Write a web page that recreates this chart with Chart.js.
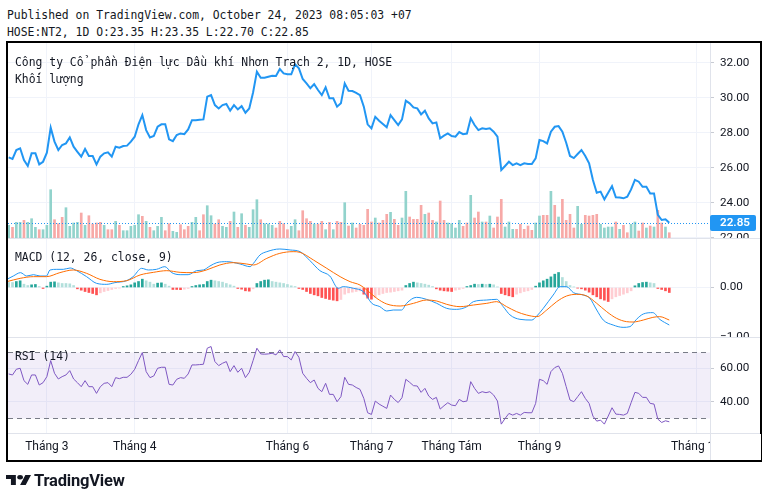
<!DOCTYPE html>
<html lang="vi">
<head>
<meta charset="utf-8">
<title>HOSE:NT2 - TradingView</title>
<script src="https://cdn.jsdelivr.net/npm/chart.js@4.4.0/dist/chart.umd.min.js"></script>
<style>
  body { margin: 0; background: #fff; }
  #page { position: relative; width: 767px; height: 498px; overflow: hidden; color: #131722; font-family: Roboto, sans-serif; }
  .mono { position: absolute; font-family: 'DejaVu Sans Mono', monospace; font-size: 11.4px; line-height: 14px; white-space: nowrap; color: #131722; }
  #frame { position: absolute; left: 6px; top: 41px; width: 752px; height: 417px; border: 2px solid #000; }
  canvas { position: absolute; left: 8px; }
  .sep { position: absolute; left: 8px; width: 752px; height: 1px; background: #e0e3eb; }
  #axisCorner { position: absolute; left: 710px; top: 434px; width: 50px; height: 26px; background: #fff; border-left: 1px solid #e0e3eb; }
  #logo { position: absolute; left: 6px; top: 470px; height: 20px; display: flex; align-items: center; }
  #logo span { font-family: Roboto, sans-serif; font-weight: 700; font-size: 16.5px; margin-left: 3px; letter-spacing: -0.2px; }
</style>
</head>
<body>
<div id="page">
  <div class="mono" style="left:7px; top:8px;">Published on TradingView.com, October 24, 2023 08:05:03 +07</div>
  <div class="mono" style="left:7px; top:25px;">HOSE:NT2, 1D O:23.35 H:23.35 L:22.70 C:22.85</div>

  <div id="frame"></div>
  <canvas id="main" width="752" height="195" style="top:43px;"></canvas>
  <canvas id="macd" width="752" height="99" style="top:238px;"></canvas>
  <canvas id="rsi" width="752" height="123" style="top:337px;"></canvas>
  <div class="sep" style="top:238px;"></div>
  <div class="sep" style="top:337px;"></div>
  <div class="sep" style="top:433px;"></div>
  <div id="axisCorner"></div>

  <div class="mono" style="left:15px; top:55px;">Công ty Cổ phần Điện lực Dầu khí Nhơn Trạch 2, 1D, HOSE</div>
  <div class="mono" style="left:15px; top:72px;">Khối lượng</div>
  <div class="mono" style="left:15px; top:250px;">MACD (12, 26, close, 9)</div>
  <div class="mono" style="left:15px; top:349px;">RSI (14)</div>

  <div id="logo">
    <svg width="25" height="10" viewBox="0 4 35.5 18" preserveAspectRatio="none">
      <path fill="#131722" d="M14 22H7V11H0V4h14v18zM28 22h-8l7.5-18h8L28 22z"/>
      <circle fill="#131722" cx="20" cy="8" r="4"/>
    </svg>
    <span>TradingView</span>
  </div>
</div>

<script>
'use strict';

// one entry per trading day, Feb 15 2023 -> Oct 24 2023 (bar index = position)
let close = [
  26.59, 26.50, 27.01, 27.11, 26.44, 26.10, 26.82, 26.82, 26.19, 26.34,
  26.86, 28.29, 27.49, 27.01, 27.30, 27.39, 27.73, 27.20, 26.91, 26.63,
  27.07, 26.67, 26.67, 26.19, 26.63, 26.82, 26.88, 26.63, 27.20, 27.14,
  27.24, 27.26, 27.49, 27.77, 28.48, 29.01, 28.15, 27.73, 27.81, 28.34,
  28.48, 28.48, 27.62, 27.52, 27.87, 27.96, 27.92, 28.19, 28.72, 28.72,
  28.74, 28.76, 30.06, 30.15, 29.58, 29.39, 29.58, 29.64, 29.26, 29.58,
  29.33, 29.52, 29.14, 29.39, 30.30, 31.49, 31.14, 31.14, 31.20, 31.26,
  31.24, 31.64, 31.39, 31.35, 31.34, 31.91, 31.68, 31.07, 30.82, 30.54,
  30.78, 30.44, 30.15, 30.59, 29.97, 29.97, 29.49, 29.68, 30.82, 30.40,
  30.38, 30.28, 30.15, 29.49, 28.48, 28.25, 28.91, 28.69, 28.50, 28.31,
  29.01, 28.72, 28.44, 28.76, 29.83, 29.68, 29.45, 29.39, 29.05, 29.26,
  28.82, 28.53, 28.59, 27.68, 27.83, 27.96, 27.81, 27.77, 28.04, 27.92,
  27.95, 28.82, 28.44, 28.15, 28.25, 28.21, 28.25, 28.06, 27.77, 25.87,
  26.10, 26.34, 26.15, 26.25, 26.15, 26.25, 26.21, 26.21, 26.53, 27.58,
  27.52, 27.39, 28.06, 28.34, 28.38, 28.06, 27.43, 26.67, 26.55, 26.78,
  27.01, 26.67, 26.25, 25.30, 24.57, 24.63, 24.19, 24.57, 24.95, 24.31,
  24.29, 24.25, 24.34, 24.76, 25.30, 25.20, 24.91, 24.91, 24.53, 24.53,
  23.30, 23.01, 23.05, 22.85
];

// volume, millions of shares
let volume = [
  1.27, 1.07, 1.57, 1.57, 1.77, 1.57, 1.93, 1.07, 0.83, 0.83,
  1.27, 4.83, 1.83, 1.43, 2.07, 3.03, 1.17, 1.50, 1.57, 2.50,
  1.27, 2.23, 1.40, 1.50, 1.57, 1.27, 0.83, 0.83, 1.67, 1.27,
  0.73, 0.73, 1.17, 1.27, 2.33, 2.17, 1.67, 1.07, 0.73, 1.17,
  2.07, 0.73, 1.43, 0.67, 0.57, 1.33, 0.83, 1.17, 1.57, 2.07,
  0.73, 2.33, 3.23, 2.23, 1.40, 1.83, 1.17, 1.07, 1.67, 2.60,
  1.07, 2.43, 1.27, 1.07, 2.83, 3.83, 1.83, 1.43, 1.40, 1.27,
  1.00, 1.67, 1.43, 0.83, 1.17, 1.83, 0.73, 2.73, 1.93, 1.67,
  1.40, 1.40, 1.67, 0.83, 1.57, 0.83, 1.67, 1.57, 3.53, 1.20,
  1.50, 1.00, 1.37, 1.27, 2.87, 1.60, 2.00, 1.50, 1.77, 2.37,
  2.57, 1.87, 1.27, 2.00, 4.67, 2.10, 1.87, 1.87, 3.27, 2.37,
  2.50, 1.77, 1.60, 3.70, 1.77, 1.50, 1.43, 1.00, 1.77, 1.17,
  1.50, 4.27, 2.00, 2.60, 1.60, 1.60, 2.20, 1.00, 2.10, 3.87,
  1.10, 1.60, 0.87, 0.87, 1.37, 0.87, 1.20, 0.77, 1.50, 2.20,
  2.27, 2.27, 4.67, 3.27, 2.10, 3.87, 1.77, 2.37, 1.00, 3.17,
  1.37, 2.27, 2.20, 2.27, 2.37, 1.37, 1.00, 1.10, 1.10, 1.60,
  0.87, 1.27, 0.53, 1.37, 1.60, 0.70, 1.50, 1.00, 1.20, 1.10,
  2.77, 1.50, 1.10, 0.53
];

// U = up candle, D = down candle
let volumeSide = (
  'UDUUDUUUDU' + 'UUDDDUUUUD' + 'UDDDDUDDUD' + 'UUUUUDUDUU' + 'UDDUUDDDUU' +
  'DDUUDDUUDU' + 'DUDUUUDUUU' + 'DDDDUUDDDD' + 'UDDUDUDD' +
  'UDUDDDDDUD' + 'DDUDDUUDDD' + 'DUDDUDDUUU' + 'UDDUDDUDUD' + 'DDUUUDDDDD' +
  'UUDDUDUDDD' + 'DUUDDDDUUU' + 'UDUDDUUDDU' + 'DUDDUD'
).split('');

// MACD (12, 26, 9): [bar index, value]
let macdLine = [
  [-0.5, 0.165], [1.2, 0.232], [3.1, 0.300], [4.7, 0.232], [6.5, 0.259], [8.2, 0.232],
  [9.9, 0.232], [10.8, 0.353], [12.6, 0.367], [14.3, 0.367], [16.1, 0.394], [17.8, 0.340],
  [20.4, 0.219], [23.0, 0.084], [25.7, 0.064], [27.8, 0.098], [30.9, 0.138], [32.6, 0.219],
  [34.8, 0.387], [36.6, 0.354], [38.7, 0.367], [40.9, 0.421], [42.7, 0.300], [44.9, 0.259],
  [47.0, 0.259], [49.2, 0.340], [51.0, 0.354], [52.7, 0.434], [54.5, 0.502], [57.1, 0.522],
  [60.6, 0.475], [63.2, 0.421], [64.1, 0.488], [65.8, 0.657], [67.6, 0.724], [71.0, 0.778],
  [73.7, 0.758], [76.3, 0.724], [78.9, 0.542], [81.5, 0.340], [84.1, 0.232], [86.3, -0.017],
  [87.6, 0.017], [90.3, -0.017], [92.9, -0.084], [95.1, -0.320], [97.2, -0.387], [99.0, -0.475],
  [100.7, -0.455], [102.9, -0.455], [104.2, -0.320], [106.8, -0.199], [109.4, -0.239], [112.1, -0.320],
  [114.7, -0.421], [117.3, -0.441], [120.0, -0.387], [121.7, -0.286], [125.2, -0.253], [127.8, -0.239],
  [129.5, -0.387], [131.3, -0.555], [133.9, -0.643], [137.0, -0.657], [138.3, -0.576], [140.0, -0.421],
  [142.6, -0.152], [144.4, 0.017], [146.1, 0.017], [147.9, -0.104], [150.5, -0.152], [152.2, -0.219],
  [154.0, -0.455], [155.7, -0.657], [158.3, -0.758], [160.9, -0.805], [162.7, -0.791], [164.4, -0.643],
  [166.2, -0.535], [168.7, -0.508], [170.5, -0.643], [173.0, -0.758]
];

let signalLine = [
  [-0.5, 0.118], [3.0, 0.185], [6.5, 0.219], [9.9, 0.219], [13.4, 0.300], [16.9, 0.354],
  [20.4, 0.286], [23.9, 0.165], [27.4, 0.118], [30.9, 0.138], [34.4, 0.253], [37.9, 0.306],
  [41.4, 0.340], [44.9, 0.306], [48.4, 0.300], [51.8, 0.354], [55.3, 0.455], [58.8, 0.502],
  [62.3, 0.475], [64.1, 0.455], [67.6, 0.589], [71.0, 0.690], [74.5, 0.724], [76.3, 0.710],
  [79.8, 0.556], [83.3, 0.387], [86.8, 0.219], [89.4, 0.118], [92.0, 0.050], [93.8, -0.051],
  [96.4, -0.219], [99.0, -0.333], [102.5, -0.374], [106.0, -0.320], [109.4, -0.253], [112.1, -0.273],
  [114.7, -0.340], [118.2, -0.387], [121.7, -0.354], [125.2, -0.320], [127.8, -0.286], [130.4, -0.387],
  [133.0, -0.488], [135.6, -0.555], [138.3, -0.589], [140.9, -0.455], [143.5, -0.286], [146.1, -0.172],
  [148.7, -0.138], [151.4, -0.172], [154.0, -0.320], [156.6, -0.488], [159.2, -0.623], [161.8, -0.690],
  [163.5, -0.697], [166.2, -0.657], [168.7, -0.603], [170.5, -0.589], [173.0, -0.657]
];

let macdHist = [
  0.101, 0.101, 0.121, 0.135, 0.067, 0.040, 0.054, 0.061, 0.020, -0.020,
  0.027, 0.108, 0.114, 0.094, 0.081, 0.081, 0.074, 0.040, -0.027, -0.054,
  -0.081, -0.101, -0.121, -0.148, -0.108, -0.081, -0.061, -0.040, -0.020, -0.013,
  0.020, 0.034, 0.054, 0.094, 0.121, 0.168, 0.135, 0.108, 0.067, 0.088,
  0.094, 0.067, 0.027, -0.040, -0.040, -0.044, -0.034, -0.020, 0.020, 0.040,
  0.054, 0.061, 0.121, 0.148, 0.135, 0.121, 0.108, 0.081, 0.054, 0.027,
  -0.020, -0.034, -0.067, -0.074, -0.027, 0.081, 0.121, 0.148, 0.155, 0.121,
  0.108, 0.094, 0.081, 0.061, 0.034, 0.020, -0.020, -0.040, -0.081, -0.121,
  -0.148, -0.168, -0.202, -0.222, -0.242, -0.256, -0.269, -0.242, -0.135, -0.108,
  -0.094, -0.081, -0.067, -0.135, -0.215, -0.236, -0.202, -0.148, -0.121, -0.101,
  -0.094, -0.081, -0.067, -0.054, 0.040, 0.081, 0.108, 0.094, 0.081, 0.067,
  0.047, 0.020, -0.027, -0.054, -0.067, -0.074, -0.081, -0.054, -0.040, -0.020,
  0.020, 0.040, 0.067, 0.061, 0.067, 0.061, 0.067, 0.054, 0.013, -0.121,
  -0.148, -0.168, -0.188, -0.135, -0.108, -0.081, -0.067, -0.040, 0.027, 0.094,
  0.135, 0.168, 0.215, 0.269, 0.303, 0.202, 0.121, 0.040, 0.013, -0.013,
  -0.027, -0.054, -0.094, -0.148, -0.188, -0.229, -0.256, -0.283, -0.229, -0.188,
  -0.162, -0.135, -0.108, -0.067, 0.034, 0.081, 0.101, 0.108, 0.094, 0.081,
  -0.020, -0.040, -0.067, -0.101
];

let rsi = [
  56.6, 56.0, 59.4, 60.0, 52.6, 50.4, 56.0, 56.0, 50.0, 51.4,
  55.0, 64.6, 57.0, 53.6, 55.0, 56.0, 58.6, 53.6, 51.4, 49.0,
  52.6, 49.0, 49.0, 45.0, 49.0, 51.0, 51.4, 49.0, 54.4, 53.8,
  54.6, 54.6, 56.4, 59.4, 64.6, 69.4, 58.0, 54.4, 55.4, 60.0,
  60.6, 60.6, 50.4, 50.0, 53.4, 54.4, 54.0, 56.6, 62.0, 62.0,
  62.2, 62.4, 72.0, 73.0, 64.0, 61.6, 63.0, 64.0, 58.0, 61.6,
  57.6, 60.0, 54.4, 57.6, 64.6, 72.0, 68.6, 68.4, 68.6, 69.0,
  68.0, 71.0, 67.0, 67.0, 65.0, 70.0, 66.6, 57.0, 54.0, 51.4,
  53.0, 48.0, 46.0, 51.0, 44.4, 44.4, 40.0, 43.0, 54.6, 50.4,
  50.0, 48.5, 47.4, 42.0, 33.4, 32.4, 40.4, 38.6, 37.3, 36.0,
  44.0, 41.4, 39.5, 42.4, 53.4, 51.6, 49.6, 49.4, 45.6, 48.0,
  43.4, 41.4, 42.6, 35.6, 37.6, 39.4, 38.0, 37.6, 41.4, 40.0,
  40.4, 52.0, 48.0, 45.0, 46.0, 45.4, 46.0, 44.0, 40.4, 26.6,
  30.0, 33.0, 32.0, 33.0, 32.0, 33.6, 33.4, 33.4, 39.0, 53.4,
  52.6, 50.4, 58.0, 60.4, 61.4, 57.0, 49.0, 41.0, 40.0, 43.0,
  46.0, 42.0, 39.0, 31.4, 28.4, 29.0, 26.6, 31.4, 36.4, 32.6,
  32.4, 32.0, 33.0, 39.4, 45.6, 45.0, 42.6, 42.6, 39.0, 38.6,
  29.6, 27.6, 28.6, 28.0
];
let rsiUpper = 70;
let rsiLower = 30;

// month starts (bar index) that carry a label in the reference
let monthTicks = [10, 33, 73, 95, 116, 139, 180];
let monthLabels = ['Tháng 3', 'Tháng 4', 'Tháng 6', 'Tháng 7', 'Tháng Tám', 'Tháng 9', 'Tháng 11'];

let priceTicks = [22, 24, 26, 28, 30, 32];
let macdTicks = [-1, 0];
let rsiTicks = [40, 60];

// ---- chart setup ----

Chart.defaults.font.family = 'Roboto, sans-serif';
Chart.defaults.color = '#131722';
Chart.defaults.animation = false;
Chart.defaults.plugins.legend.display = false;
Chart.defaults.plugins.tooltip.enabled = false;

const xMin = -0.18;
const xMax = 183.66;
const gridColor = '#f0f3fa';

function fmt(v) {
  return (v < 0 ? '\u2212' : '') + Math.abs(v).toFixed(2);
}

function timeAxis(showLabels) {
  return {
    type: 'linear',
    min: xMin,
    max: xMax,
    offset: false,
    afterBuildTicks: function (scale) {
      scale.ticks = monthTicks.map(v => ({ value: v }));
    },
    afterFit: function (scale) {
      scale.height = showLabels ? 27 : 0;
      scale.paddingLeft = 0;
      scale.paddingRight = 0;
    },
    grid: { color: gridColor, drawTicks: false, offset: false },
    border: { display: showLabels, color: '#e0e3eb' },
    ticks: {
      display: showLabels,
      autoSkip: false,
      maxRotation: 0,
      padding: 7,
      font: { size: 12 },
      callback: v => monthLabels[monthTicks.indexOf(v)]
    }
  };
}

function valueAxis(min, max, tickValues) {
  return {
    type: 'linear',
    position: 'right',
    min: min,
    max: max,
    afterBuildTicks: function (scale) {
      scale.ticks = tickValues.map(v => ({ value: v }));
    },
    afterFit: function (scale) {
      scale.width = 50;
      scale.paddingTop = 0;
      scale.paddingBottom = 0;
    },
    grid: { color: gridColor, tickColor: '#c8cbd3', tickLength: 4 },
    border: { color: '#e0e3eb' },
    ticks: { padding: 6, font: { size: 11.7 }, callback: fmt }
  };
}

function points(arr) {
  return arr.map((v, i) => ({ x: i, y: v }));
}

function pairs(arr) {
  return arr.map(p => ({ x: p[0], y: p[1] }));
}

// dotted line + blue badge for the last close
const lastPricePlugin = {
  id: 'lastPrice',
  afterDatasetsDraw(chart) {
    const ctx = chart.ctx;
    const area = chart.chartArea;
    const y = Math.round(chart.scales.y.getPixelForValue(close[close.length - 1])) + 0.5;
    ctx.save();
    ctx.strokeStyle = '#2196f3';
    ctx.lineWidth = 1;
    ctx.setLineDash([1, 2]);
    ctx.beginPath();
    ctx.moveTo(area.left, y);
    ctx.lineTo(area.right, y);
    ctx.stroke();
    ctx.restore();
  },
  afterDraw(chart) {
    const ctx = chart.ctx;
    const area = chart.chartArea;
    const last = close[close.length - 1];
    const y = Math.round(chart.scales.y.getPixelForValue(last));
    ctx.save();
    ctx.fillStyle = '#2196f3';
    ctx.beginPath();
    ctx.roundRect(area.right, y - 8, 46, 16, 2);
    ctx.fill();
    ctx.fillStyle = '#fff';
    ctx.font = '600 11.7px Roboto, sans-serif';
    ctx.textBaseline = 'middle';
    ctx.fillText(last.toFixed(2), area.right + 10, y + 0.5);
    ctx.restore();
  }
};

// shaded 30-70 band with dashed limits
const rsiBandPlugin = {
  id: 'rsiBand',
  beforeDatasetsDraw(chart) {
    const ctx = chart.ctx;
    const area = chart.chartArea;
    const yScale = chart.scales.y;
    const top = Math.round(yScale.getPixelForValue(rsiUpper)) + 0.5;
    const bottom = Math.round(yScale.getPixelForValue(rsiLower)) + 0.5;
    ctx.save();
    ctx.fillStyle = 'rgba(126, 87, 194, 0.1)';
    ctx.fillRect(area.left, top, area.right - area.left, bottom - top);
    ctx.strokeStyle = '#787b86';
    ctx.lineWidth = 1;
    ctx.setLineDash([5, 4]);
    [top, bottom].forEach(function (y) {
      ctx.beginPath();
      ctx.moveTo(area.left, y);
      ctx.lineTo(area.right, y);
      ctx.stroke();
    });
    ctx.restore();
  }
};

new Chart(document.getElementById('main'), {
  type: 'line',
  data: {
    datasets: [
      {
        type: 'line',
        data: points(close),
        borderColor: '#2196f3',
        borderWidth: 2,
        pointRadius: 0,
        yAxisID: 'y'
      },
      {
        type: 'bar',
        data: points(volume),
        backgroundColor: volumeSide.map(s => s === 'U' ? '#92d3cc' : '#f7a9a7'),
        barThickness: 2,
        yAxisID: 'vol'
      }
    ]
  },
  options: {
    responsive: false,
    layout: { padding: 0 },
    scales: {
      x: timeAxis(false),
      y: valueAxis(21.98, 33.13, priceTicks),
      vol: { type: 'linear', display: false, min: 0, max: 19.5 }
    }
  },
  plugins: [lastPricePlugin]
});

new Chart(document.getElementById('macd'), {
  type: 'line',
  data: {
    datasets: [
      {
        type: 'line',
        data: pairs(signalLine),
        borderColor: '#ff6d00',
        borderWidth: 1,
        pointRadius: 0,
        cubicInterpolationMode: 'monotone'
      },
      {
        type: 'line',
        data: pairs(macdLine),
        borderColor: '#2196f3',
        borderWidth: 1,
        pointRadius: 0,
        cubicInterpolationMode: 'monotone'
      },
      {
        type: 'bar',
        data: points(macdHist),
        barThickness: 2,
        backgroundColor: function (ctx) {
          const i = ctx.dataIndex;
          const v = macdHist[i];
          const prev = i > 0 ? macdHist[i - 1] : v;
          if (v >= 0) {
            return prev < v ? '#26a69a' : '#b2dfdb';
          }
          return prev < v ? '#ffcdd2' : '#ff5252';
        }
      }
    ]
  },
  options: {
    responsive: false,
    layout: { padding: 0 },
    scales: {
      x: timeAxis(false),
      y: valueAxis(-1, 1, macdTicks)
    }
  }
});

new Chart(document.getElementById('rsi'), {
  type: 'line',
  data: {
    datasets: [
      {
        data: points(rsi),
        borderColor: '#7e57c2',
        borderWidth: 1,
        pointRadius: 0
      }
    ]
  },
  options: {
    responsive: false,
    layout: { padding: 0 },
    scales: {
      x: timeAxis(true),
      y: valueAxis(21.3, 78.7, rsiTicks)
    }
  },
  plugins: [rsiBandPlugin]
});
</script>
</body>
</html>
